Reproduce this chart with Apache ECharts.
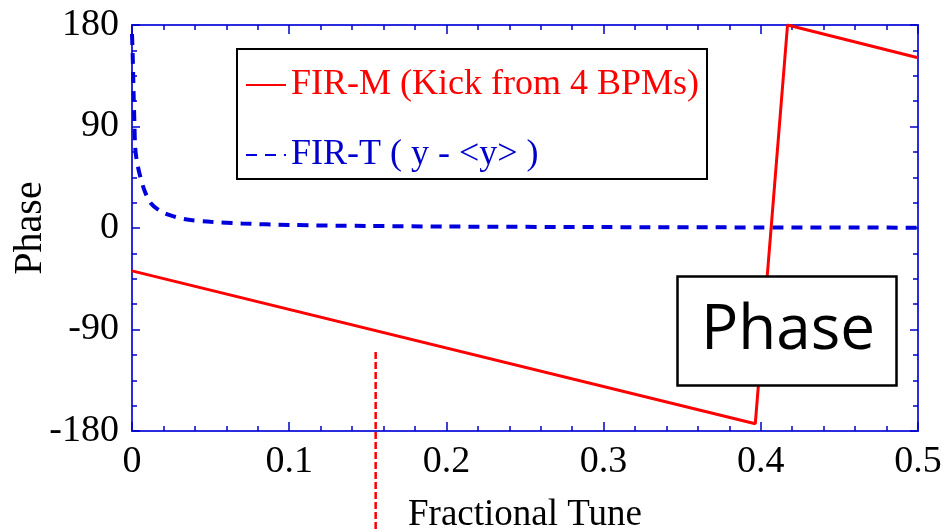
<!DOCTYPE html>
<html>
<head>
<meta charset="utf-8">
<title>Phase vs Fractional Tune</title>
<script src="https://cdn.jsdelivr.net/npm/echarts@6/dist/echarts.min.js"></script>
<style>
  html, body { margin: 0; padding: 0; background: #fff; }
  #chart { width: 945px; height: 532px; }
</style>
</head>
<body>
<div id="chart"></div>
<script>
// Phase response of the two filters versus fractional tune
const firMTune  = [0, 0.3965, 0.417, 0.5];
const firMPhase = [-38, -173.5, 180, 151];

const firTTune  = [0, 0.0005, 0.001, 0.0015, 0.002, 0.003, 0.005, 0.008, 0.012, 0.018,
                   0.025, 0.035, 0.05, 0.07, 0.1, 0.15, 0.2, 0.3, 0.4, 0.5];
const firTPhase = [172, 150, 120, 95, 72, 60, 47, 33, 22, 15,
                   11, 7.5, 5.5, 4, 2.7, 1.8, 1.3, 0.8, 0.5, 0.3];

const xTicks = [0, 0.1, 0.2, 0.3, 0.4, 0.5];
const yTicks = [-180, -90, 0, 90, 180];

const seriesNames = ['FIR-M (Kick from 4 BPMs)', 'FIR-T ( y - <y> )'];

// reference tune marker
const markerTune = 0.155;
const markerPhaseTop = -110;

const serif = 'Liberation Serif, Times New Roman, serif';
const axisBlue = '#2b2be0';

function pairs(xs, ys) { return xs.map((x, i) => [x, ys[i]]); }

const chart = echarts.init(document.getElementById('chart'), null, { renderer: 'canvas' });

const baseX = {
  type: 'value', min: xTicks[0], max: xTicks[xTicks.length - 1], interval: 0.1,
  axisLine: { show: true, onZero: false, lineStyle: { color: axisBlue, width: 2 } },
  axisTick: { show: true, inside: true, length: 9, lineStyle: { color: '#0000cc', width: 1.5 } },
  minorTick: { show: true, splitNumber: 5, length: 5, lineStyle: { color: '#0000cc', width: 1.5 } },
  splitLine: { show: false }
};
const baseY = {
  type: 'value', min: yTicks[0], max: yTicks[yTicks.length - 1], interval: 90,
  axisLine: { show: true, onZero: false, lineStyle: { color: axisBlue, width: 2 } },
  axisTick: { show: true, inside: true, length: 8, lineStyle: { color: '#0000cc', width: 1.5 } },
  minorTick: { show: true, splitNumber: 4, length: 5, lineStyle: { color: '#0000cc', width: 1.5 } },
  splitLine: { show: false }
};

chart.setOption({
  animation: false,
  backgroundColor: '#ffffff',
  grid: { left: 132, top: 25, width: 786, height: 406, containLabel: false, outerBoundsMode: 'none' },
  title: {
    text: 'Phase',
    left: 677, top: 276,
    padding: [24, 22, 24, 24],
    borderColor: '#000', borderWidth: 2.5,
    backgroundColor: '#fff',
    textStyle: { fontFamily: 'Open Sans, Noto Sans, sans-serif', fontSize: 62, fontWeight: 'normal', color: '#000' }
  },
  legend: {
    orient: 'vertical',
    left: 237, top: 49,
    padding: [18, 8, 6, 8],
    itemGap: 34,
    itemWidth: 40, itemHeight: 14,
    borderColor: '#000', borderWidth: 2,
    backgroundColor: '#fff',
    itemStyle: { opacity: 0 },
    data: [
      { name: seriesNames[0], textStyle: { color: '#ff0000' } },
      { name: seriesNames[1], textStyle: { color: '#0000cc' } }
    ],
    textStyle: { fontFamily: serif, fontSize: 36 }
  },
  xAxis: [
    Object.assign({}, baseX, {
      position: 'bottom',
      name: 'Fractional Tune', nameLocation: 'middle', nameGap: 66, nameMoveOverlap: false,
      nameTextStyle: { fontFamily: serif, fontSize: 37, color: '#000' },
      axisLabel: { show: true, margin: 12, fontFamily: serif, fontSize: 38, color: '#000' }
    }),
    Object.assign({}, baseX, { position: 'top', axisLabel: { show: false } })
  ],
  yAxis: [
    Object.assign({}, baseY, {
      position: 'left',
      name: 'Phase', nameLocation: 'middle', nameGap: 82, nameRotate: 90, nameMoveOverlap: false,
      nameTextStyle: { fontFamily: serif, fontSize: 40, color: '#000' },
      axisLabel: { show: true, margin: 13, fontFamily: serif, fontSize: 38, color: '#000' }
    }),
    Object.assign({}, baseY, { position: 'right', axisLabel: { show: false } })
  ],
  series: [
    {
      name: seriesNames[0], type: 'line', xAxisIndex: 0, yAxisIndex: 0,
      data: pairs(firMTune, firMPhase),
      symbol: 'none', clip: true,
      lineStyle: { color: '#ff0000', width: 3 },
      itemStyle: { color: '#ff0000' },
      z: 3
    },
    {
      name: seriesNames[1], type: 'line', xAxisIndex: 0, yAxisIndex: 0,
      data: pairs(firTTune, firTPhase),
      symbol: 'none', smooth: 0.3, clip: true,
      lineStyle: { color: '#0000dd', width: 4, type: [11, 8] },
      itemStyle: { color: '#0000dd' },
      z: 2
    }
  ]
});

// Dashed marker dropping from the FIR-M curve region down through the axis labels
const markerStart = chart.convertToPixel({ xAxisIndex: 0, yAxisIndex: 0 }, [markerTune, markerPhaseTop]);
chart.setOption({
  graphic: [{
    type: 'line', z: 10,
    shape: { x1: markerStart[0], y1: markerStart[1], x2: markerStart[0], y2: chart.getHeight() },
    style: { stroke: '#ff0000', lineWidth: 2.5, lineDash: [7, 3] }
  }]
});
</script>
</body>
</html>
